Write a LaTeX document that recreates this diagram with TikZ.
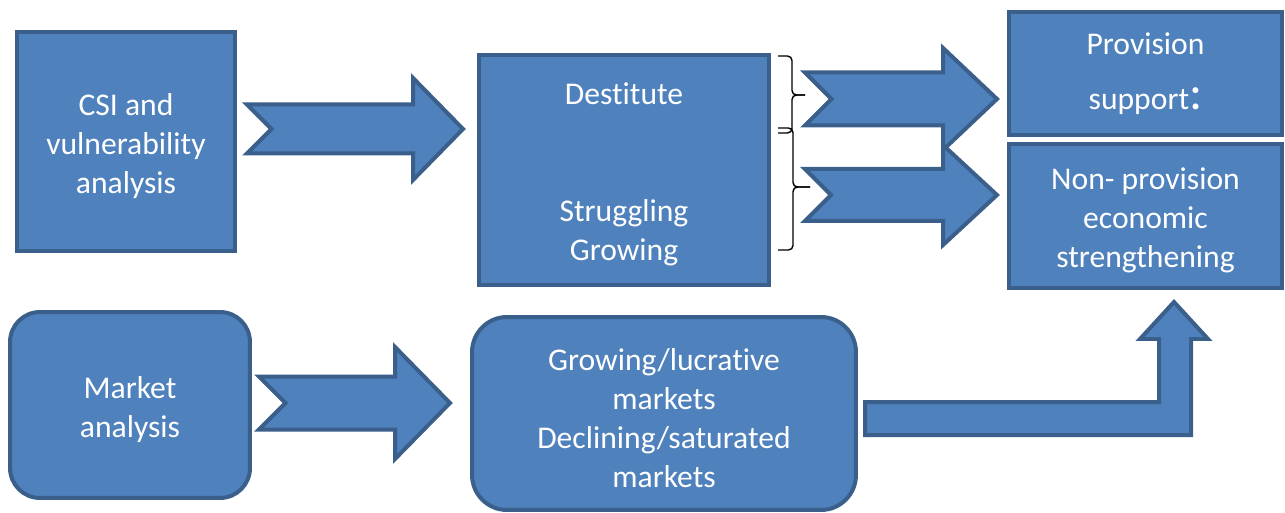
\documentclass[tikz,border=0pt]{standalone}
\usepackage{fontspec}
\setmainfont{Carlito}[Ligatures=CommonOff]
\definecolor{boxfill}{HTML}{4F81BD}
\definecolor{boxline}{HTML}{3A5F8B}
\newcommand{\topstrut}{\rule{0pt}{17.5pt}}
% tail x, mid y, head x, tip x, shaft half, head half
\newcommand{\notcharrow}[6]{%
  \draw[blockarrow] (#1,#2-#5) -- (#3,#2-#5) -- (#3,#2-#6) -- (#4,#2)
    -- (#3,#2+#6) -- (#3,#2+#5) -- (#1,#2+#5) -- (#1+#5,#2) -- cycle;}
% end x, spine x, tip x, top y, tip y, bottom y
\newcommand{\sqbrace}[6]{%
  \draw[bracket] (#1,#4) -| (#2,#5) -- (#3,#5);
  \draw[bracket] (#3,#5) -- (#2,#5) |- (#1,#6);}

\begin{document}
\begin{tikzpicture}[x=0.02cm, y=-0.02cm,
    box/.style={draw=boxline, fill=boxfill, line width=0.08cm, text=white,
      align=center, font=\fontsize{18}{22.2}\selectfont},
    roundbox/.style={box, rounded corners=#1},
    blockarrow/.style={draw=boxline, fill=boxfill, line width=0.08cm, line join=miter},
    bracket/.style={draw, line width=0.8pt, rounded corners=0.09cm}]
  \useasboundingbox (0,0) rectangle (1285,513);
  % top row
  \node [box, minimum width=4.36cm, minimum height=4.38cm] (csi) at (126,141.5)
    {\topstrut CSI and\\ vulnerability\\ analysis};
  \node [box, minimum width=5.80cm, minimum height=4.60cm] (groups) at (624,170)
    {\topstrut Destitute\\[44pt] Struggling\\ Growing};
  \node [box, minimum width=5.46cm, minimum height=2.46cm] (provision) at (1145.5,73.5)
    {Provision\\[9pt] support{\fontsize{28}{28}\selectfont :}};
  \node [box, minimum width=5.46cm, minimum height=2.88cm] (nonprov) at (1145.5,216)
    {\topstrut Non- provision\\ economic\\ strengthening};
  % bottom row
  \node [roundbox=0.6cm, minimum width=4.80cm, minimum height=3.72cm] (market) at (130,405)
    {\topstrut Market\\ analysis};
  \node [roundbox=0.7cm, minimum width=7.68cm, minimum height=3.86cm] (markets) at (664,413.5)
    {\topstrut Growing/lucrative\\ markets\\ Declining/saturated\\ markets};
  % arrows
  \notcharrow{247}{129}{413}{463}{24.5}{51}
  \notcharrow{259}{403}{395}{450}{26.5}{56}
  \notcharrow{805}{99}{943}{997}{26.5}{51}
  \notcharrow{805}{195}{943}{997}{26}{50}
  \draw [blockarrow] (865,402) -- (1159,402) -- (1159,339) -- (1140,339) -- (1174,302)
    -- (1208,339) -- (1191,339) -- (1191,435) -- (865,435) -- cycle;
  % braces
  \sqbrace{778}{792}{805}{56}{95}{133}
  \sqbrace{778}{793}{810}{128}{187}{250}
\end{tikzpicture}
\end{document}
